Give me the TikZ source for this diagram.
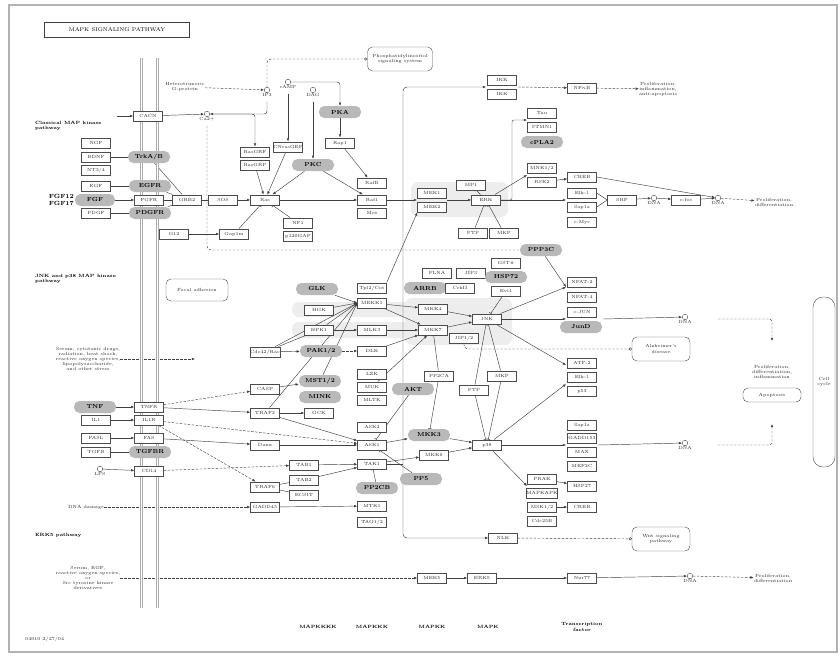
\documentclass[tikz,border=0pt]{standalone}
\usetikzlibrary{arrows.meta,backgrounds}
\begin{document}
\begin{tikzpicture}[x=1pt,y=-1pt,
  gene/.style={draw=black!70,fill=white,line width=0.45pt,minimum width=29pt,minimum height=10.5pt,inner sep=0pt,font=\fontsize{4.5}{5}\selectfont,text=black!85},
  hub/.style={fill=gray!55,rounded corners=5.5pt,minimum width=42pt,minimum height=12pt,inner sep=0pt,font=\fontsize{5.8}{7}\selectfont\bfseries},
  cpd/.style={circle,draw=black!70,fill=white,minimum size=5.5pt,inner sep=0pt,line width=0.4pt,label={[font=\fontsize{4.5}{5}\selectfont,inner sep=0.5pt,text=black!85]below:#1}},
  pmap/.style={draw=black!70,rounded corners=5pt,fill=white,align=center,font=\fontsize{4.5}{5.2}\selectfont,inner sep=2pt,text=black!85},
  txt/.style={align=center,font=\fontsize{4.5}{5}\selectfont,text=black!85,inner sep=0pt},
  head/.style={align=left,font=\fontsize{4.6}{5.4}\selectfont\bfseries,inner sep=0pt,anchor=west},
  arr/.style={-{Latex[length=3.2pt,width=2.6pt]},draw=black!75,line width=0.45pt},
  inh/.style={-{Bar[width=4pt]},draw=black!75,line width=0.45pt},
  lnk/.style={draw=black!75,line width=0.45pt},
  ind/.style={arr,dash pattern=on 2.5pt off 1.5pt},
  dline/.style={lnk,dash pattern=on 2.5pt off 1.5pt},
  ocirc/.style={-{Circle[open,length=3pt]},draw=black!75,line width=0.45pt,dash pattern=on 2.5pt off 1.5pt},
  hilite/.style={fill=gray!14,rounded corners=7pt}]
\useasboundingbox (0,0) rectangle (840,656);
\draw[gray!60,line width=1.2pt] (9,5) rectangle (837,652);
\node[draw=black!75,line width=0.8pt,minimum width=145pt,minimum height=15pt,font=\fontsize{5.5}{6}\selectfont] (title) at (117,30) {MAPK SIGNALING PATHWAY};
\foreach \mx in {141.5,157.5}
  \draw[gray!65,line width=1pt,double=white,double distance=1.8pt] (\mx,58) -- (\mx,608);

\node[head] at (35,126) {Classical MAP kinase\\pathway};
\node[head] at (35,279) {JNK and p38 MAP kinase\\pathway};
\node[head] at (35,535) {ERK5 pathway};

% classical MAP kinase pathway
\node[gene] (cacn) at (148,116) {CACN};
\node[cpd=Ca2+] (ca) at (207,114) {};
\node[cpd=IP3] (ip3) at (267,90) {};
\node[cpd=cAMP] (camp) at (288,82) {};
\node[cpd=DAG] (dag) at (313,90) {};
\node[txt] (hetg) at (185,87) {Heterotrimeric\\G-protein};
\node[pmap,minimum width=65pt,minimum height=24pt] (pis) at (400,59) {Phosphatidylinositol\\signaling system};
\node[gene] (ngf) at (96,143) {NGF};
\node[gene] (bdnf) at (96,157) {BDNF};
\node[gene] (nt34) at (96,170) {NT3/4};
\node[hub] (trk) at (149,157) {TrkA/B};
\node[gene] (egf) at (96,186) {EGF};
\node[hub] (egfr) at (150,186) {EGFR};
\node[hub,minimum width=40pt] (fgf) at (95,200) {FGF};
\node[align=right,anchor=east,inner sep=0pt,font=\fontsize{6}{7}\selectfont\bfseries] (fgfx) at (74,200) {FGF12\\FGF17};
\node[gene] (fgfr) at (149,200) {FGFR};
\node[gene] (pdgf) at (96,213) {PDGF};
\node[hub] (pdgfr) at (150,213) {PDGFR};
\node[gene] (grb2) at (187,200) {GRB2};
\node[gene] (sos) at (223,200) {SOS};
\node[gene] (ras) at (265,200) {Ras};
\node[gene] (rasgrf) at (255,152) {RasGRF};
\node[gene] (rasgrp) at (255,165) {RasGRP};
\node[gene] (cnrasgef) at (288,147) {CNrasGEF};
\node[hub] (pkc) at (313,165) {PKC};
\node[hub] (pka) at (340,112) {PKA};
\node[gene] (rap1) at (340,143) {Rap1};
\node[gene] (rafb) at (372,183) {RafB};
\node[gene] (raf1) at (372,200) {Raf1};
\node[gene] (mos) at (372,213) {Mos};
\node[gene] (nf1) at (298,223) {NF1};
\node[gene] (p120) at (298,236) {p120GAP};
\node[gene] (g12) at (174,234) {G12};
\node[gene] (gap1m) at (234,234) {Gap1m};
\node[gene] (mek1) at (432,193) {MEK1};
\node[gene] (mek2) at (432,207) {MEK2};
\node[gene] (mp1) at (471,185) {MP1};
\node[gene] (erk) at (486,200) {ERK};
\node[gene] (ptp1) at (473,233) {PTP};
\node[gene] (mkp1) at (504,233) {MKP};
\node[gene] (tau) at (542,113) {Tau};
\node[gene] (stmn1) at (542,127) {STMN1};
\node[hub] (cpla2) at (542,142) {cPLA2};
\node[gene] (mnk) at (542,168) {MNK1/2};
\node[gene] (rsk2) at (542,182) {RSK2};
\node[gene] (creb1) at (582,177) {CREB};
\node[gene] (elk1) at (582,193) {Elk-1};
\node[gene] (sap1a) at (582,207) {Sap1a};
\node[gene] (cmyc) at (582,222) {c-Myc};
\node[gene] (srf) at (622,200) {SRF};
\node[cpd=DNA] (dna1) at (654,198) {};
\node[gene] (cfos) at (686,200) {c-fos};
\node[cpd=DNA] (dna2) at (718,198) {};
\node[txt] (prolif1) at (774,202) {Proliferation,\\differentiation};
\node[gene] (ikk1) at (502,80) {IKK};
\node[gene] (ikk2) at (502,94) {IKK};
\node[gene] (nfkb) at (582,88) {NF$\kappa$B};
\node[txt] (prolif0) at (658,89) {Proliferation,\\inflammation,\\anti-apoptosis};
\node[hub] (ppp3c) at (541,250) {PPP3C};

% JNK and p38 MAP kinase pathway
\node[pmap,minimum width=62pt,minimum height=22pt] (focal) at (197,290) {Focal adhesion};
\node[txt] (stress1) at (88,359) {Serum, cytotoxic drugs,\\radiation, heat shock,\\reactive oxygen species,\\lipopolysaccharide,\\and other stress};
\node[hub] (glk) at (317,289) {GLK};
\node[gene] (hgk) at (319,310) {HGK};
\node[gene] (hpk1) at (319,330) {HPK1};
\node[gene] (cdc42) at (265,352) {Cdc42/Rac};
\node[hub] (pak) at (321,351) {PAK1/2};
\node[gene] (casp) at (265,389) {CASP};
\node[hub] (mst) at (320,381) {MST1/2};
\node[hub] (mink) at (320,397) {MINK};
\node[gene] (traf2) at (265,413) {TRAF2};
\node[gene] (gck) at (319,413) {GCK};
\node[gene] (tpl2) at (372,288) {Tpl2/Cot};
\node[gene] (mekk1) at (372,303) {MEKK1};
\node[gene] (mlk3) at (372,330) {MLK3};
\node[gene] (dlk) at (372,351) {DLK};
\node[gene] (lzk) at (372,374) {LZK};
\node[gene] (muk) at (372,387) {MUK};
\node[gene] (mltk) at (372,400) {MLTK};
\node[gene] (ask2) at (372,427) {ASK2};
\node[gene] (ask1) at (372,445) {ASK1};
\node[gene] (tak1) at (372,464) {TAK1};
\node[gene] (mtk1) at (372,506) {MTK1};
\node[gene] (tao) at (372,522) {TAO1/2};
\node[gene] (flna) at (437,273) {FLNA};
\node[gene] (jip3) at (471,273) {JIP3};
\node[hub] (arrb) at (425,288) {ARRB};
\node[gene] (crkii) at (460,288) {CrkII};
\node[gene] (gstp) at (506,263) {GST$\pi$};
\node[hub] (hsp72) at (506,277) {HSP72};
\node[gene] (evi1) at (506,291) {Evi1};
\node[gene] (mkk4) at (433,309) {MKK4};
\node[gene] (mkk7) at (433,330) {MKK7};
\node[gene] (jnk) at (487,319) {JNK};
\node[gene] (jip12) at (464,338) {JIP1/2};
\node[gene] (nfat2) at (582,282) {NFAT-2};
\node[gene] (nfat4) at (582,297) {NFAT-4};
\node[gene] (cjun) at (582,312) {c-JUN};
\node[hub] (jund) at (581,327) {JunD};
\node[cpd=DNA] (dna3) at (685,317) {};
\node[pmap,minimum width=58pt,minimum height=24pt] (alz) at (661,349) {Alzheimer's\\disease};
\node[txt] (prolif2) at (772,372) {Proliferation,\\differentiation,\\inflammation};
\node[pmap,minimum width=58pt,minimum height=14pt] (apop) at (772,395) {Apoptosis};
\node[pmap,rounded corners=10pt,minimum width=22pt,minimum height=170pt] (ccyc) at (824,382) {Cell\\cycle};
\node[gene] (pp2ca) at (439,376) {PP2CA};
\node[gene] (ptp2) at (474,390) {PTP};
\node[gene] (mkp2) at (502,376) {MKP};
\node[gene] (atf2) at (582,363) {ATF-2};
\node[gene] (elk1b) at (582,377) {Elk-1};
\node[gene] (p53) at (582,391) {p53};
\node[hub] (akt) at (413,389) {AKT};
\node[hub] (mkk3) at (429,435) {MKK3};
\node[gene] (mkk6) at (434,455) {MKK6};
\node[hub] (pp5) at (421,479) {PP5};
\node[gene] (p38) at (487,445) {p38};
\node[gene] (sap1ab) at (582,425) {Sap1a};
\node[gene] (gadd153) at (582,438) {GADD153};
\node[gene] (max) at (582,452) {MAX};
\node[gene] (mef2c) at (582,466) {MEF2C};
\node[gene] (prak) at (542,479) {PRAK};
\node[gene] (mapkapk) at (542,493) {MAPKAPK};
\node[gene] (msk) at (542,507) {MSK1/2};
\node[gene] (cdc25b) at (542,521) {Cdc25B};
\node[gene] (hsp27) at (582,486) {HSP27};
\node[gene] (creb2) at (582,507) {CREB};
\node[cpd=DNA] (dna5) at (685,443) {};
\node[gene] (nlk) at (503,538) {NLK};
\node[pmap,minimum width=58pt,minimum height=24pt] (wnt) at (661,539) {Wnt signaling\\pathway};
\node[hub] (tnf) at (95,407) {TNF};
\node[gene] (tnfr) at (149,407) {TNFR};
\node[gene] (il1) at (96,420) {IL1};
\node[gene] (il1r) at (149,420) {IL1R};
\node[gene] (fasl) at (96,438) {FASL};
\node[gene] (fas) at (149,438) {FAS};
\node[gene] (tgfb) at (96,452) {TGFB};
\node[hub] (tgfbr) at (150,452) {TGFBR};
\node[cpd=LPS] (lps) at (100,469) {};
\node[gene] (cd14) at (149,471) {CD14};
\node[gene] (daxx) at (265,445) {Daxx};
\node[gene] (tab1) at (304,465) {TAB1};
\node[gene] (tab2) at (304,480) {TAB2};
\node[gene] (ecsit) at (304,495) {ECSIT};
\node[gene] (traf6) at (265,487) {TRAF6};
\node[gene] (gadd45) at (265,507) {GADD45};
\node[hub] (pp2cb) at (377,488) {PP2CB};
\node[txt] (dnadam) at (86,507) {DNA damage};

% ERK5 pathway
\node[txt] (stress2) at (88,578) {Serum, EGF,\\reactive oxygen species,\\or\\Src tyrosine kinase\\derivatives};
\node[gene] (mek5) at (432,578) {MEK5};
\node[gene] (erk5) at (482,578) {ERK5};
\node[gene] (nur77) at (582,578) {Nur77};
\node[cpd=DNA] (dna4) at (690,576) {};
\node[txt] (prolif3) at (773,578) {Proliferation,\\differentiation};

\node[head,anchor=center] at (318,627) {MAPKKKK};
\node[head,anchor=center] at (372,627) {MAPKKK};
\node[head,anchor=center] at (432,627) {MAPKK};
\node[head,anchor=center] at (488,627) {MAPK};
\node[head,anchor=center,align=center] at (582,627) {Transcription\\factor};
\node[txt,anchor=west] at (25,639) {04010 2/27/04};

\coordinate (cacnin) at (117,116);
\coordinate (mekin) at (417,200);
\coordinate (mekout) at (447,200);
\coordinate (tauin) at (527,120);
\coordinate (mnkin) at (527,175);
\coordinate (elkin) at (566,200);
\coordinate (tkv) at (403,464);
\coordinate (ikkin) at (486,87);
\coordinate (ikkout) at (518,87);
\coordinate (nfatin) at (566,287);
\coordinate (junin) at (566,319);
\coordinate (junout) at (603,319);
\coordinate (atfin) at (566,365);
\coordinate (elkbin) at (566,384);
\coordinate (sapin) at (566,445);
\coordinate (sapout) at (598,445);
\coordinate (prakin) at (527,486);
\coordinate (pd1) at (718,319);
\coordinate (pd2) at (772,341);
\coordinate (pd3) at (718,445);
\coordinate (pd4) at (772,424);
\coordinate (stressend) at (195,359);

\begin{pgfonlayer}{background}
\fill[hilite] (411,182) rectangle (508,217);
\fill[hilite] (292,302) rectangle (420,317);
\fill[hilite] (292,322) rectangle (420,338);
\fill[hilite] (405,298) rectangle (512,345);

\draw[arr] (cacnin) -- (cacn);
\draw[arr] (cacn) -- (ca);
\draw[ind] (hetg) -- (ip3);
\draw[ocirc,rounded corners=4pt] (ip3.north) |- (pis.west);
\draw[arr,rounded corners=3pt] (ip3.south) ++(0,9) |- (ca.east);
\draw[arr,rounded corners=3pt] (ca.east) -| (rasgrf.north);
\draw[arr] (camp.south) ++(0,9) -- (cnrasgef);
\draw[arr,rounded corners=3pt] (camp.east) -| (pka.north);
\draw[arr] (dag.south) ++(0,9) -- (pkc);
\draw[arr] (pka) -- (rap1);
\draw[arr] (rap1) -- (rafb);
\draw[arr] (pkc) -- (ras);
\draw[arr] (pkc) -- (raf1);
\draw[arr] (rasgrp) -- (ras);
\draw[arr] (cnrasgef) -- (ras);
\draw[lnk] (grb2) -- (sos);
\draw[arr] (sos) -- (ras);
\draw[arr] (ras) -- (raf1);
\draw[lnk] (bdnf) -- (trk);
\draw[lnk] (egf) -- (egfr);
\draw[lnk] (pdgf) -- (pdgfr);
\draw[arr] (fgf) -- (fgfr);
\draw[lnk] (trk) -- (grb2);
\draw[lnk] (egfr) -- (grb2);
\draw[lnk] (fgfr) -- (grb2);
\draw[lnk] (pdgfr) -- (grb2);
\draw[inh] (nf1) -- (ras);
\draw[inh] (gap1m) -- (ras);
\draw[arr] (g12) -- (gap1m);
\draw[arr] (raf1) -- (mekin);
\draw[arr] (mekout) -- (erk);
\draw[lnk] (mp1) -- (erk);
\draw[inh] (ptp1) -- (erk);
\draw[inh] (mkp1) -- (erk);
\draw[arr,rounded corners=2pt] (erk.east) -- (512,200) |- (tauin);
\draw[arr] (erk) -- (mnkin);
\draw[arr] (erk.east) -- (elkin);
\draw[arr] (rsk2) -- (creb1);
\draw[lnk] (elk1.east) -- (srf.west);
\draw[lnk] (sap1a.east) -- (srf.west);
\draw[arr] (srf) -- (dna1);
\draw[arr] (dna1) -- (cfos);
\draw[arr] (cfos) -- (dna2);
\draw[arr] (creb1.east) -- (dna2);
\draw[ind] (dna2) -- (prolif1);
\draw[lnk] (tak1.east) -- (tkv);
\draw[arr,rounded corners=4pt] (tkv) |- (ikkin);
\draw[arr,rounded corners=4pt] (tkv) |- (nlk.west);
\draw[ind] (ikkout) -- (nfkb);
\draw[ind] (nfkb) -- (prolif0);
\draw[dline,rounded corners=4pt] (ca.south) ++(0,9) |- (ppp3c.west);
\draw[arr] (ppp3c) -- (nfatin);

\draw[arr] (glk) -- (mekk1.west);
\draw[arr] (hgk) -- (mekk1.west);
\draw[arr] (hpk1) -- (mekk1.west);
\draw[arr] (cdc42) -- (mekk1.west);
\draw[arr] (mst) -- (mekk1.west);
\draw[arr] (traf2) -- (mekk1.west);
\draw[arr] (hpk1) -- (mlk3);
\draw[lnk] (cdc42) -- (hpk1);
\draw[arr] (cdc42) -- (pak);
\draw[ind] (pak) -- (dlk);
\draw[arr] (casp) -- (mst);
\draw[arr] (traf2) -- (gck);
\draw[arr] (tpl2.north east) -- (mek2.south west);
\draw[arr] (mekk1) -- (mkk4);
\draw[arr] (mekk1) -- (mkk7);
\draw[arr] (mlk3) -- (mkk7);
\draw[arr] (dlk) -- (mkk7);
\draw[arr] (muk) -- (mkk7);
\draw[arr] (mkk4) -- (jnk);
\draw[arr] (mkk7) -- (jnk);
\draw[arr] (jnk) -- (nfatin);
\draw[arr] (jnk.east) -- (junin);
\draw[arr] (junout) -- (dna3);
\draw[arr] (jnk) -- (atfin);
\draw[inh] (evi1) -- (jnk);
\draw[ocirc,rounded corners=4pt] (jip12.south) |- (alz.west);
\draw[inh] (ptp2) -- (jnk);
\draw[inh] (mkp2) -- (jnk);
\draw[inh] (ptp2) -- (p38);
\draw[inh] (mkp2) -- (p38);
\draw[inh] (pp2ca) -- (mkk7);
\draw[inh] (pp2ca) -- (mkk3);
\draw[ind,rounded corners=3pt] (pd1) -| (pd2);
\draw[ind,rounded corners=3pt] (pd3) -| (pd4);
\draw[arr] (mkk3) -- (p38);
\draw[arr] (mkk6) -- (p38);
\draw[arr] (p38.east) -- (sapin);
\draw[arr] (sapout) -- (dna5);
\draw[arr] (p38) -- (elkbin);
\draw[arr] (p38) -- (prakin);
\draw[arr] (prak) -- (hsp27);
\draw[arr] (msk) -- (creb2);
\draw[arr] (ask1) -- (mkk3);
\draw[arr] (tak1) -- (mkk6);
\draw[inh] (akt) -- (ask1);
\draw[inh] (pp5) -- (ask1);
\draw[inh] (pp2cb) -- (tak1);
\draw[arr] (daxx) -- (ask1);
\draw[arr] (traf2) -- (ask1);
\draw[arr] (tab1) -- (tak1);
\draw[arr] (tab2) -- (tak1);
\draw[lnk] (traf6) -- (tab2);
\draw[lnk] (traf6) -- (ecsit);
\draw[arr] (gadd45) -- (mtk1);
\draw[ind] (dnadam) -- (gadd45);
\draw[ind] (stress1.east) -- (stressend);
\draw[arr] (tnf) -- (tnfr);
\draw[arr] (il1) -- (il1r);
\draw[arr] (fasl) -- (fas);
\draw[lnk] (tgfb) -- (tgfbr);
\draw[arr] (lps) -- (cd14);
\draw[ind] (tnfr) -- (casp);
\draw[arr] (tnfr) -- (traf2);
\draw[ind] (il1r) -- (ask1);
\draw[ind] (il1r) -- (traf6);
\draw[arr] (fas) -- (daxx);
\draw[ind] (cd14) -- (tab1);
\draw[ocirc] (nlk) -- (wnt);
\draw[ind] (stress2.east) -- (mek5);
\draw[arr] (mek5) -- (erk5);
\draw[arr] (erk5) -- (nur77);
\draw[arr] (nur77) -- (dna4);
\draw[ind] (dna4) -- (prolif3);
\end{pgfonlayer}
\end{tikzpicture}
\end{document}
